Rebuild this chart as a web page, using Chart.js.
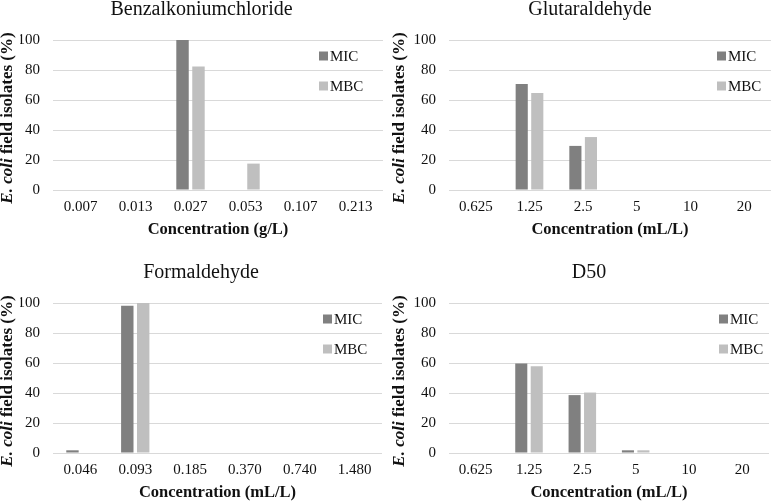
<!DOCTYPE html>
<html>
<head>
<meta charset="utf-8">
<script src="https://cdn.jsdelivr.net/npm/chart.js@4.4.1/dist/chart.umd.min.js"></script>
<style>
html,body{margin:0;padding:0;background:#fff;overflow:hidden;width:778px;height:503px;}
.p{position:absolute;}
</style>
</head>
<body>
<div class="p" style="left:0;top:0;"><canvas id="c1" width="389" height="250"></canvas></div>
<div class="p" style="left:389px;top:0;"><canvas id="c2" width="389" height="250"></canvas></div>
<div class="p" style="left:0;top:263px;"><canvas id="c3" width="389" height="250"></canvas></div>
<div class="p" style="left:389px;top:263px;"><canvas id="c4" width="389" height="250"></canvas></div>
<script>
// ---- data ----
const seriesNames = ['MIC', 'MBC'];
const yTicks = [0, 20, 40, 60, 80, 100];

const benzTitle = 'Benzalkoniumchloride';
const benzCats = ['0.007', '0.013', '0.027', '0.053', '0.107', '0.213'];
const benzMIC = [0, 0, 100, 0, 0, 0];
const benzMBC = [0, 0, 82.4, 17.6, 0, 0];

const gluTitle = 'Glutaraldehyde';
const gluCats = ['0.625', '1.25', '2.5', '5', '10', '20'];
const gluMIC = [0, 70.6, 29.4, 0, 0, 0];
const gluMBC = [0, 64.7, 35.3, 0, 0, 0];

const formTitle = 'Formaldehyde';
const formCats = ['0.046', '0.093', '0.185', '0.370', '0.740', '1.480'];
const formMIC = [1.8, 98.2, 0, 0, 0, 0];
const formMBC = [0, 100, 0, 0, 0, 0];

const d50Title = 'D50';
const d50Cats = ['0.625', '1.25', '2.5', '5', '10', '20'];
const d50MIC = [0, 59.6, 38.6, 1.8, 0, 0];
const d50MBC = [0, 57.9, 40.3, 1.8, 0, 0];

const xTitleGL = 'Concentration (g/L)';
const xTitleML = 'Concentration (mL/L)';
const yTitleItalic = 'E. coli';
const yTitleRest = ' field isolates (%)';

// ---- styles ----
const FONT = "'Liberation Serif', 'Times New Roman', serif";
const MIC_COLOR = '#808080';
const MBC_COLOR = '#bfbfbf';
const GRID = '#d9d9d9';
const TXT = '#111111';

const yTitlePlugin = {
  id: 'yTitle',
  afterDraw(chart, args, opts) {
    const ctx = chart.ctx;
    const f1 = "italic bold 17px " + FONT;
    const f2 = "bold 17px " + FONT;
    ctx.save();
    ctx.font = f1; const w1 = ctx.measureText(yTitleItalic).width;
    ctx.font = f2; const w2 = ctx.measureText(yTitleRest).width;
    const total = w1 + w2;
    ctx.translate(opts.x, opts.y);
    ctx.rotate(-Math.PI / 2);
    ctx.fillStyle = TXT;
    ctx.textBaseline = 'middle';
    ctx.textAlign = 'left';
    ctx.font = f1; ctx.fillText(yTitleItalic, -total / 2, 0);
    ctx.font = f2; ctx.fillText(yTitleRest, -total / 2 + w1, 0);
    ctx.restore();
  }
};

const innerLegendPlugin = {
  id: 'innerLegend',
  afterDraw(chart, args, opts) {
    const ctx = chart.ctx;
    const area = chart.chartArea;
    ctx.save();
    ctx.font = "15px " + FONT;
    ctx.textBaseline = 'middle';
    ctx.textAlign = 'left';
    chart.data.datasets.forEach((ds, i) => {
      const bx = area.right - opts.offX;
      const cy = area.top + 16 + i * 30;
      ctx.fillStyle = ds.backgroundColor;
      ctx.fillRect(bx, cy - 4.5, 9, 9);
      ctx.fillStyle = TXT;
      ctx.fillText(ds.label, bx + 11, cy + 1);
    });
    ctx.restore();
  }
};

function makeChart(id, title, cats, mic, mbc, xTitle, g) {
  return new Chart(document.getElementById(id), {
    type: 'bar',
    data: {
      labels: cats,
      datasets: [
        { label: seriesNames[0], data: mic, backgroundColor: MIC_COLOR },
        { label: seriesNames[1], data: mbc, backgroundColor: MBC_COLOR }
      ]
    },
    options: {
      responsive: false,
      animation: false,
      devicePixelRatio: 1,
      layout: { padding: { left: g.padL, right: g.padR, top: 0, bottom: 0 } },
      datasets: { bar: { categoryPercentage: 0.58, barPercentage: 0.78 } },
      plugins: {
        legend: { display: false },
        tooltip: { enabled: false },
        title: {
          display: true, text: title, color: TXT,
          font: { family: FONT, size: 20, weight: 'normal' },
          padding: { top: -2, bottom: 18 }
        },
        yTitle: { x: g.yTitleX, y: 118 },
        innerLegend: { offX: g.legX }
      },
      scales: {
        x: {
          grid: { display: false, drawTicks: false },
          border: { display: false },
          ticks: { color: TXT, font: { family: FONT, size: 15 }, padding: 8, maxRotation: 0, autoSkip: false },
          title: { display: true, text: xTitle, color: TXT, font: { family: FONT, size: 16.5, weight: 'bold' }, padding: { top: 0, bottom: 10 } },
          afterFit(s) { s.height = 60; }
        },
        y: {
          min: 0, max: 100,
          afterBuildTicks(s) { s.ticks = yTicks.map(v => ({ value: v })); },
          grid: { color: GRID, drawTicks: false, lineWidth: 1 },
          border: { display: false },
          ticks: { color: TXT, font: { family: FONT, size: 15 }, padding: 13 },
          afterFit(s) { s.width = g.yW; }
        }
      }
    },
    plugins: [yTitlePlugin, innerLegendPlugin]
  });
}

makeChart('c1', benzTitle, benzCats, benzMIC, benzMBC, xTitleGL, { padL: 20, padR: 6, yW: 33, yTitleX: 8, legX: 64 });
makeChart('c2', gluTitle, gluCats, gluMIC, gluMBC, xTitleML, { padL: 20, padR: 7, yW: 40, yTitleX: 11, legX: 54 });
makeChart('c3', formTitle, formCats, formMIC, formMBC, xTitleML, { padL: 20, padR: 7, yW: 33, yTitleX: 8, legX: 59 });
makeChart('c4', d50Title, d50Cats, d50MIC, d50MBC, xTitleML, { padL: 20, padR: 9, yW: 40, yTitleX: 11, legX: 50 });
</script>
</body>
</html>
